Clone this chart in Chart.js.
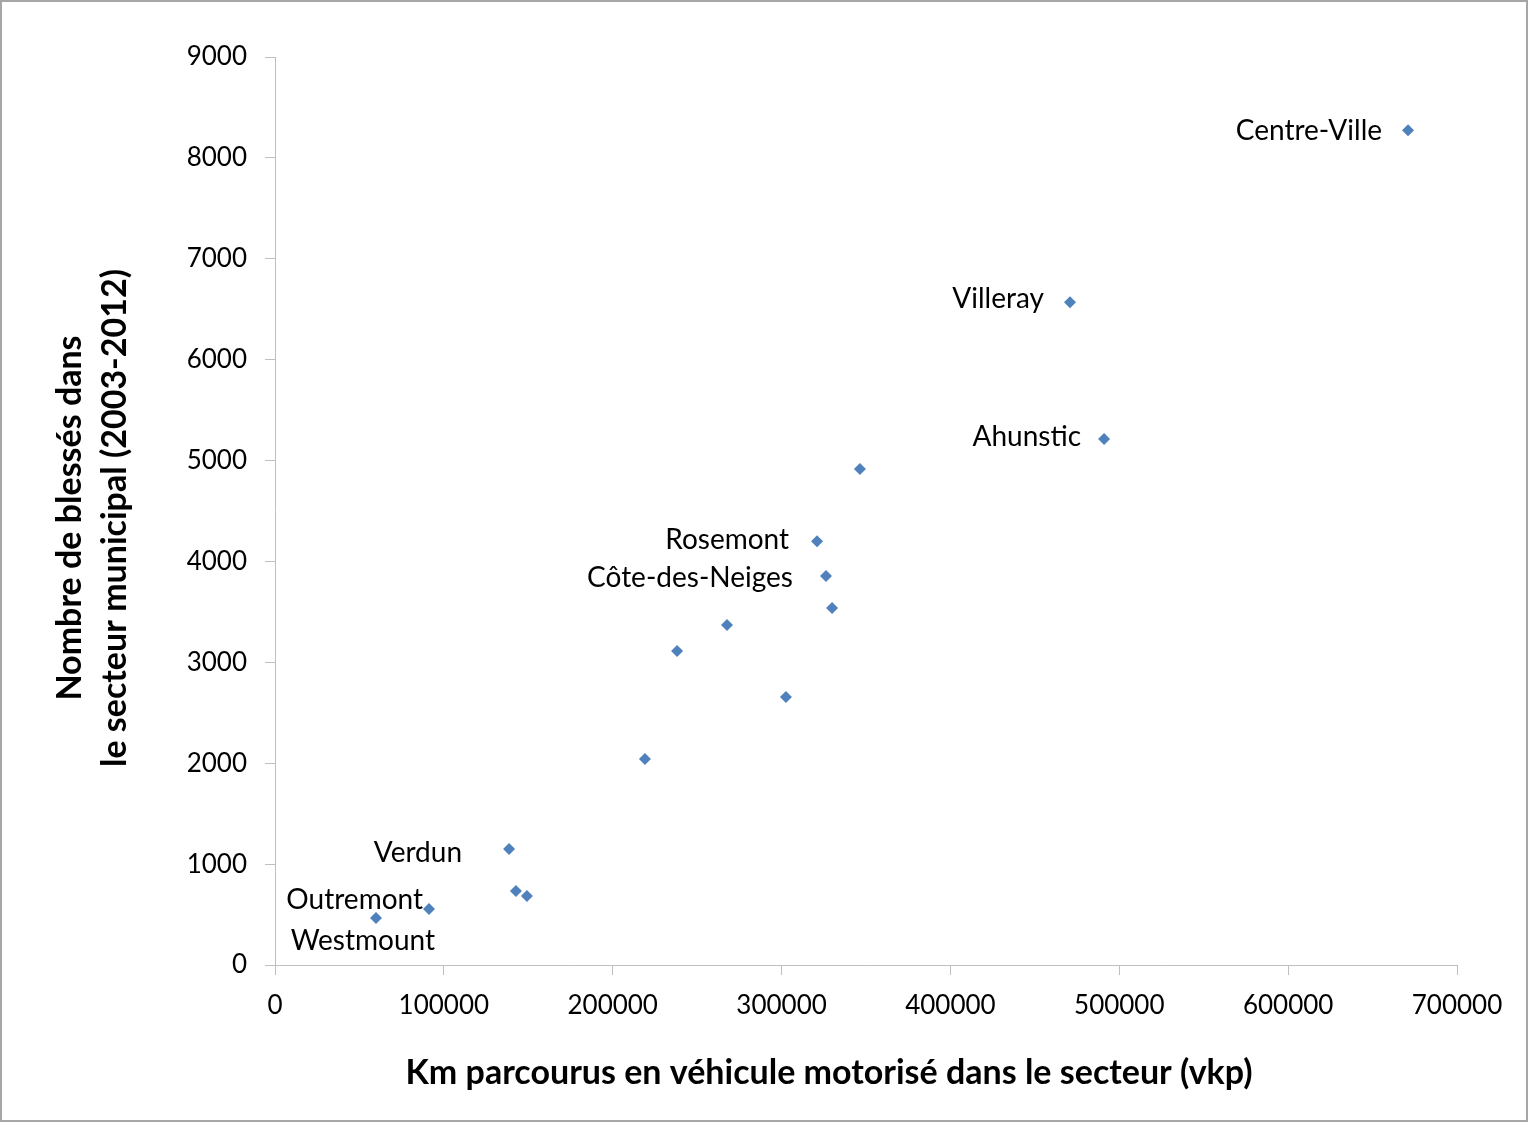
<!DOCTYPE html>
<html>
<head>
<meta charset="utf-8">
<script src="https://cdn.jsdelivr.net/npm/chart.js@4.4.0/dist/chart.umd.min.js"></script>
<style>
  html, body { margin: 0; padding: 0; background: #fff; }
  #wrap { width: 1528px; height: 1122px; }
</style>
</head>
<body>
<div id="wrap"><canvas id="scatterChart" width="1528" height="1122"></canvas></div>
<script>
// Km parcourus (vkp) et nombre de blessés par secteur
const secteurs = ['Centre-Ville', 'Villeray', 'Ahunstic', '', 'Rosemont', 'Côte-des-Neiges', '', '', '', '', '', 'Verdun', '', '', 'Outremont', 'Westmount'];
const vkp = [671000, 470800, 491000, 346400, 321000, 326300, 329900, 267700, 238100, 302600, 219100, 138600, 142700, 149200, 91200, 59800];
const blesses = [8275, 6570, 5213, 4916, 4200, 3855, 3538, 3370, 3112, 2656, 2042, 1150, 733, 684, 555, 466];
const xTicks = [0, 100000, 200000, 300000, 400000, 500000, 600000, 700000];
const yTicks = [0, 1000, 2000, 3000, 4000, 5000, 6000, 7000, 8000, 9000];

const FONT = 'Lato';
const AXIS_COLOR = '#bfbfbf';

// where each label sits relative to its point (right end of the text)
const labelOffsets = {
    'Centre-Ville': { dx: -26, dy: 1 },
    'Villeray': { dx: -26, dy: -3 },
    'Ahunstic': { dx: -23, dy: -2 },
    'Rosemont': { dx: -28, dy: -1 },
    'Côte-des-Neiges': { dx: -33, dy: 2 },
    'Verdun': { dx: -47, dy: 4 },
    'Outremont': { dx: -6, dy: -9 },
    'Westmount': { dx: 59, dy: 23 }
};

const pointLabels = {
    id: 'pointLabels',
    afterDatasetsDraw(chart) {
        const ctx = chart.ctx;
        const meta = chart.getDatasetMeta(0);
        ctx.save();
        ctx.font = '28px ' + FONT;
        ctx.fillStyle = '#000';
        ctx.textAlign = 'right';
        ctx.textBaseline = 'middle';
        meta.data.forEach((pt, i) => {
            const name = secteurs[i];
            if (!name) return;
            const off = labelOffsets[name] || { dx: -26, dy: 0 };
            ctx.fillText(name, pt.x + off.dx, pt.y + off.dy);
        });
        ctx.restore();
    }
};

const axisTitles = {
    id: 'axisTitles',
    afterDraw(chart) {
        const ctx = chart.ctx;
        ctx.save();
        ctx.fillStyle = '#000';
        ctx.font = 'bold 34px ' + FONT;
        ctx.textAlign = 'center';
        ctx.textBaseline = 'middle';
        ctx.fillText('Km parcourus en véhicule motorisé dans le secteur (vkp)', 829, 1073);
        ctx.translate(0, 518);
        ctx.rotate(-Math.PI / 2);
        ctx.fillText('Nombre de blessés dans', 0, 70);
        ctx.fillText('le secteur municipal (2003-2012)', 0, 115);
        ctx.restore();

        // frame around the whole picture
        ctx.save();
        ctx.strokeStyle = '#a6a6a6';
        ctx.lineWidth = 2;
        ctx.strokeRect(1, 1, chart.width - 2, chart.height - 2);
        ctx.restore();
    }
};

const ctx = document.getElementById('scatterChart').getContext('2d');
const chart = new Chart(ctx, {
    type: 'scatter',
    data: {
        datasets: [{
            label: 'Blessés',
            data: vkp.map((x, i) => ({ x: x, y: blesses[i] })),
            pointStyle: 'rectRot',
            pointRadius: 6,
            pointHoverRadius: 6,
            backgroundColor: '#4f81bd',
            borderColor: '#4f81bd',
            borderWidth: 0
        }]
    },
    options: {
        responsive: false,
        animation: false,
        devicePixelRatio: 1,
        layout: { padding: { left: 0, top: 57, right: 71, bottom: 0 } },
        plugins: {
            legend: { display: false },
            tooltip: { enabled: false }
        },
        scales: {
            x: {
                type: 'linear',
                min: 0,
                max: 700000,
                afterBuildTicks: scale => { scale.ticks = xTicks.map(v => ({ value: v })); },
                afterFit: scale => { scale.height = 1122 - 965; },
                border: { display: true, color: AXIS_COLOR, width: 1 },
                grid: { display: true, drawOnChartArea: false, drawTicks: true, tickLength: 10, color: AXIS_COLOR },
                ticks: {
                    padding: 15,
                    maxRotation: 0,
                    color: '#000',
                    font: { family: FONT, size: 26 },
                    callback: v => String(v)
                }
            },
            y: {
                type: 'linear',
                min: 0,
                max: 9000,
                afterBuildTicks: scale => { scale.ticks = yTicks.map(v => ({ value: v })); },
                afterFit: scale => { scale.width = 275; },
                border: { display: true, color: AXIS_COLOR, width: 1 },
                grid: { display: true, drawOnChartArea: false, drawTicks: true, tickLength: 10, color: AXIS_COLOR },
                ticks: {
                    padding: 18,
                    color: '#000',
                    font: { family: FONT, size: 26 },
                    callback: v => String(v)
                }
            }
        }
    },
    plugins: [pointLabels, axisTitles]
});
</script>
</body>
</html>
